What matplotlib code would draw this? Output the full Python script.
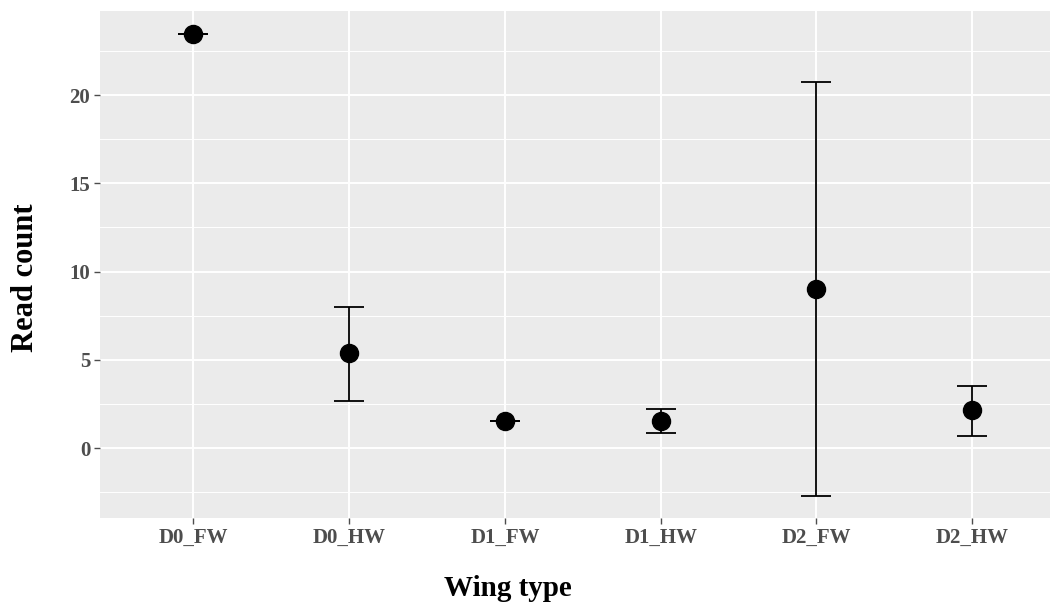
import numpy as np
import matplotlib.pyplot as plt
from matplotlib.ticker import MultipleLocator

# Mean read count per wing type with lower / upper interval bounds
wing_types = ["D0_FW", "D0_HW", "D1_FW", "D1_HW", "D2_FW", "D2_HW"]
mean_count = [23.45, 5.38, 1.54, 1.54, 9.02, 2.17]
lower_bound = [23.45, 2.69, 1.54, 0.88, -2.70, 0.70]
upper_bound = [23.45, 8.01, 1.54, 2.20, 20.73, 3.54]
y_ticks = [0, 5, 10, 15, 20]

plt.rcParams['font.family'] = ['Liberation Serif', 'DejaVu Serif']

fig = plt.figure(figsize=(10.5, 6.1), dpi=100)
ax = fig.add_axes([0.0952, 0.1508, 0.9048, 0.8312])

x = np.arange(1, len(wing_types) + 1)
mean_arr = np.array(mean_count)
yerr = np.vstack([mean_arr - np.array(lower_bound), np.array(upper_bound) - mean_arr])

ax.errorbar(x, mean_arr, yerr=yerr, fmt='none', ecolor='black', elinewidth=1.3,
            capsize=11, capthick=1.3, zorder=3)
ax.plot(x, mean_arr, 'o', color='black', markersize=13, zorder=4)

# ggplot-like panel
ax.set_facecolor('#EBEBEB')
for s in ax.spines.values():
    s.set_visible(False)
ax.set_xlim(0.4, 6.5)
ax.set_ylim(-3.95, 24.76)
ax.set_xticks(x)
ax.set_xticklabels(wing_types)
ax.set_yticks(y_ticks)
ax.yaxis.set_minor_locator(MultipleLocator(2.5))
ax.grid(which='major', color='white', linewidth=1.4, zorder=0)
ax.grid(which='minor', axis='y', color='white', linewidth=0.7, zorder=0)
ax.set_axisbelow(True)
ax.tick_params(which='major', length=4, width=1, color='#4D4D4D', pad=3)
ax.tick_params(which='minor', length=0)
for lab in ax.get_xticklabels() + ax.get_yticklabels():
    lab.set_fontsize(15)
    lab.set_fontweight('bold')
    lab.set_color('#4D4D4D')

fig.text(0.484, 0.036, "Wing type", ha='center', va='center', fontsize=21, fontweight='bold')
fig.text(0.024, 0.544, "Read count", ha='center', va='center', rotation=90, fontsize=22,
         fontweight='bold')

fig.savefig("out.png", dpi=100)
